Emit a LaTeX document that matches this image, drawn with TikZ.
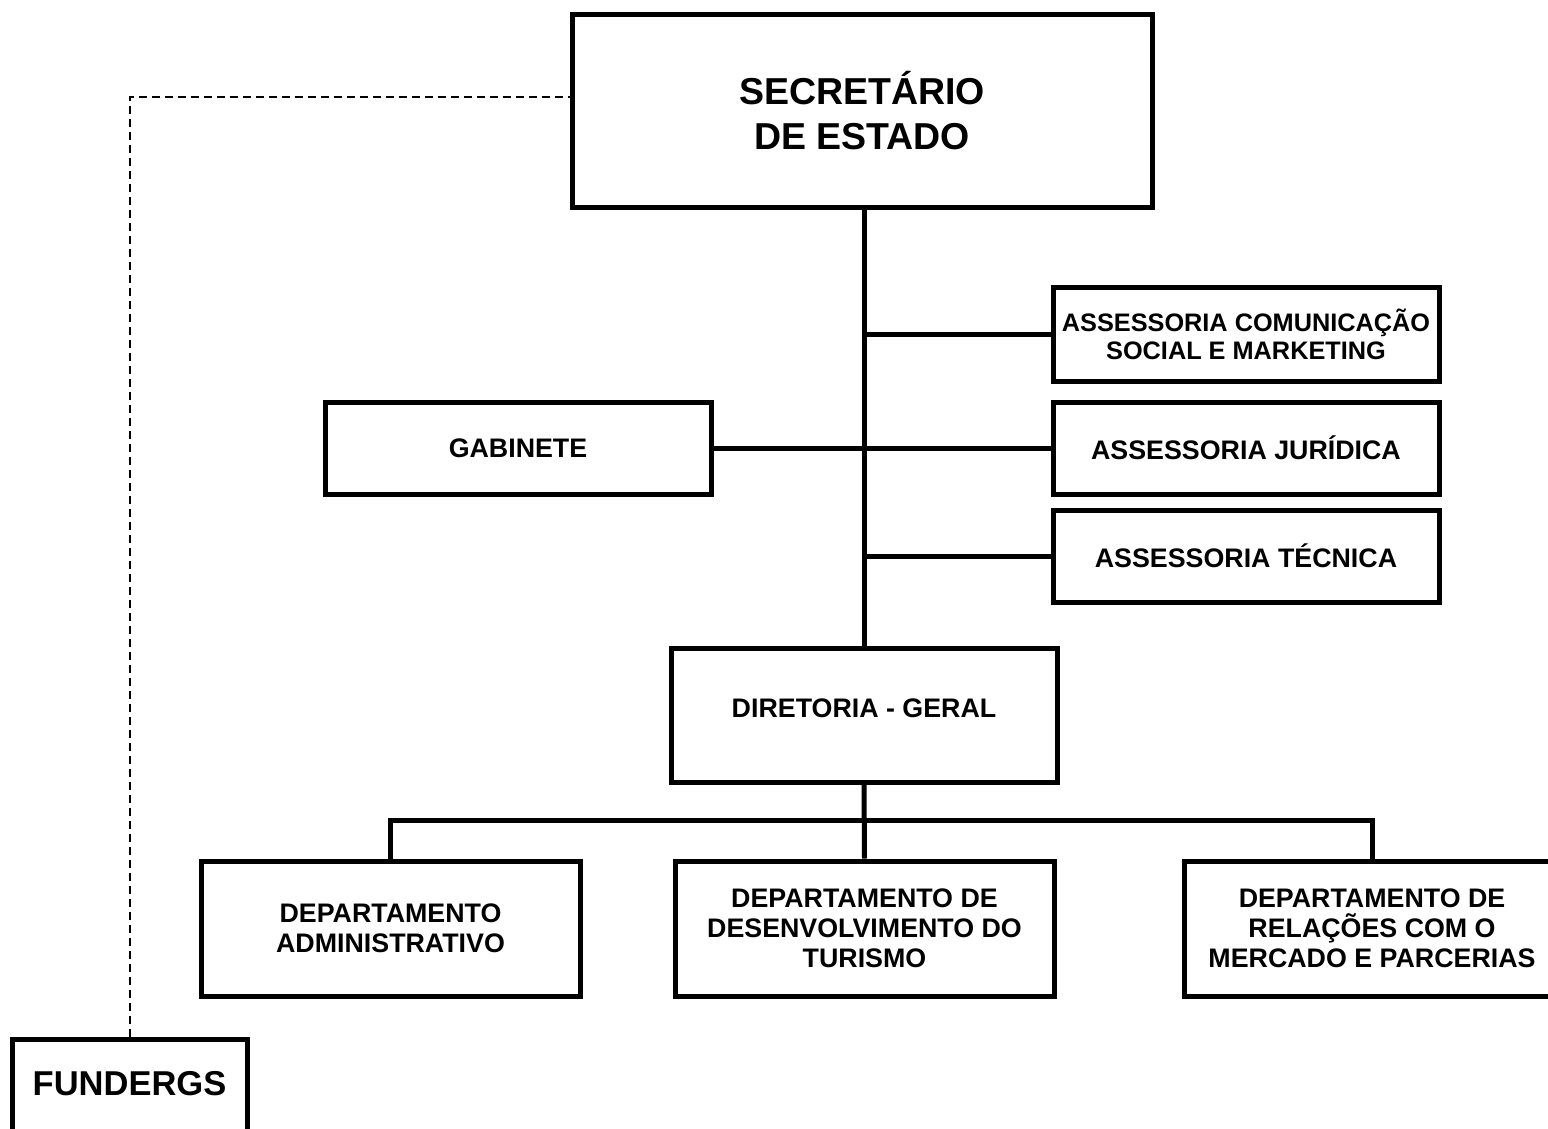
\documentclass[tikz,border=0pt]{standalone}
\usepackage{fontspec}
\setmainfont{Liberation Sans}
\begin{document}
\begin{tikzpicture}[x=1pt,y=-1pt,
  box/.style={draw, line width=5pt, inner sep=0pt, align=center, font=\fontsize{26.8}{30}\selectfont\bfseries},
  conn/.style={line width=5pt},
  dashconn/.style={line width=2pt, dash pattern=on 8pt off 5pt}]
\useasboundingbox (0,0) rectangle (1548,1128);
\clip (0,0) rectangle (1548,1128);
\fill[white] (0,0) rectangle (1548,1128);

\node[box, minimum width=580pt, minimum height=193pt, font=\fontsize{37.5}{45}\selectfont\bfseries] (sec) at (862,110.5) {SECRETÁRIO\\DE ESTADO};
\node[box, minimum width=386pt, minimum height=94pt, font=\fontsize{25.3}{28}\selectfont\bfseries] (ascom) at (1246,334) {ASSESSORIA COMUNICAÇÃO\\SOCIAL E MARKETING};
\node[box, minimum width=386pt, minimum height=92pt] (gab) at (518,448) {GABINETE};
\node[box, minimum width=386pt, minimum height=92pt] (jur) at (1246,448) {ASSESSORIA JURÍDICA};
\node[box, minimum width=386pt, minimum height=92pt] (tec) at (1246,556) {ASSESSORIA TÉCNICA};
\node[box, minimum width=386pt, minimum height=134pt, text depth=14pt] (dir) at (864,715) {DIRETORIA - GERAL};
\node[box, minimum width=379pt, minimum height=135pt] (d1) at (390.5,928.5) {DEPARTAMENTO\\ADMINISTRATIVO};
\node[box, minimum width=379pt, minimum height=135pt] (d2) at (864.5,928.5) {DEPARTAMENTO DE\\DESENVOLVIMENTO DO\\TURISMO};
\node[box, minimum width=376pt, minimum height=135pt] (d3) at (1372,928.5) {DEPARTAMENTO DE\\RELAÇÕES COM O\\MERCADO E PARCERIAS};
\node[box, minimum width=235pt, anchor=north, text height=24.5pt, text depth=60pt, inner ysep=31pt, font=\fontsize{34.5}{40}\selectfont\bfseries] (fund) at (129.5,1037) {FUNDERGS};

\draw[conn] (dir.north |- sec.south) -- (dir.north);
\draw[conn] (ascom.west) -- (ascom.west -| dir.north);
\draw[conn] (gab.east) -- (jur.west);
\draw[conn] (tec.west) -- (tec.west -| dir.north);
\draw[conn] (dir.south) -- (d2.north);
\draw[conn] (d1.north) -- ++(0,-38) -| (d3.north);
\draw[dashconn] (fund.north) |- ([yshift=13.5pt]sec.west);
\end{tikzpicture}
\end{document}
